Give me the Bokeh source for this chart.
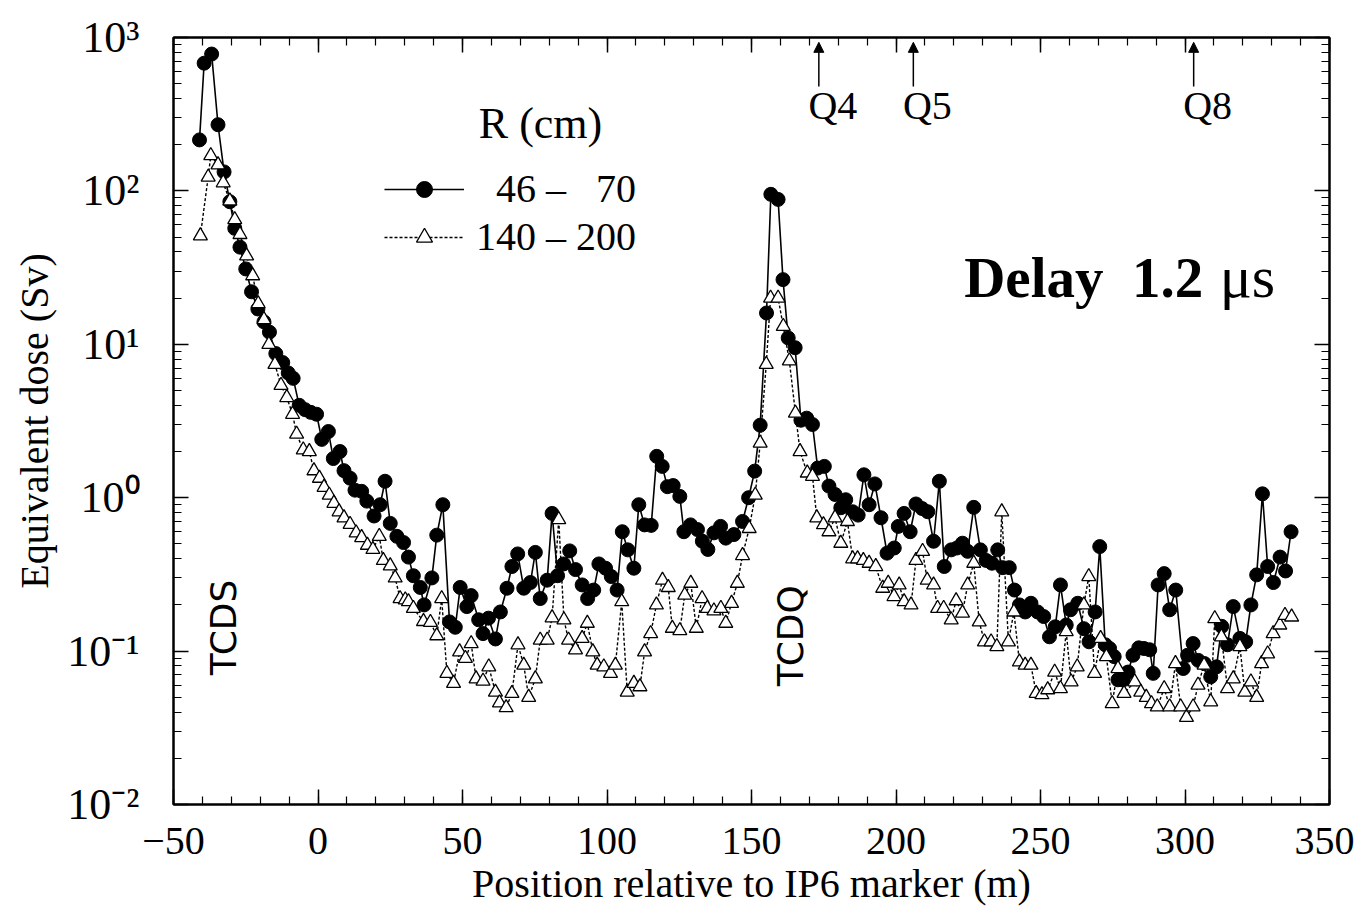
import numpy as np
from bokeh.plotting import figure
from bokeh.models import (Range1d, LinearAxis, LogAxis, FixedTicker, Legend, LegendItem,
                          Label, Arrow, NormalHead)
from bokeh.embed import file_html
from bokeh.resources import INLINE

# ---------------- data ----------------
r46_x = [-41.0, -39.4, -36.8, -34.6, -32.5, -30.5, -28.8, -27.0, -25.0, -23.0, -20.8, -18.7,
         -16.8, -14.6, -12.2, -10.3, -8.6, -6.5, -4.5, -2.5, -0.5, 1.3, 3.6, 5.3, 7.6, 9.0,
         11.1, 12.8, 15.1, 16.9, 19.4, 21.5, 23.2, 25.0, 27.3, 29.6, 31.3, 33.0, 35.4, 36.7,
         39.4, 41.1, 43.2, 45.5, 47.5, 49.2, 51.5, 53.0, 55.6, 57.1, 59.0, 61.4, 63.1, 65.4,
         67.1, 69.1, 71.2, 73.5, 75.2, 76.9, 79.3, 81.0, 82.9, 85.0, 87.1, 89.1, 91.4, 93.3,
         95.4, 97.2, 99.5, 101.5, 103.5, 105.3, 107.2, 109.3, 111.0, 113.0, 115.3, 117.2,
         119.1, 120.9, 122.9, 125.2, 126.6, 128.9, 131.3, 133.0, 134.9, 137.0, 139.3, 141.1,
         143.9, 146.9, 149.0, 151.1, 153.0, 155.2, 156.7, 159.2, 160.9, 162.7, 165.1, 167.1,
         169.1, 171.1, 172.9, 175.2, 176.8, 178.9, 180.9, 182.6, 185.0, 186.9, 188.9, 190.7,
         192.7, 194.8, 196.9, 199.4, 200.8, 202.8, 204.9, 206.9, 209.0, 211.0, 213.0, 215.0,
         216.7, 219.1, 221.1, 223.0, 224.8, 226.9, 229.2, 231.2, 233.2, 235.2, 236.9, 239.2,
         241.0, 242.7, 244.7, 246.7, 249.0, 251.1, 253.1, 255.1, 256.9, 258.9, 260.4, 262.9,
         265.0, 266.8, 268.9, 270.5, 272.4, 273.9, 275.5, 276.8, 278.6, 280.3, 282.0, 284.0,
         285.8, 287.8, 289.0, 290.7, 292.8, 294.7, 296.8, 299.4, 300.9, 302.8, 304.6, 306.7,
         308.9, 310.9, 312.7, 314.7, 316.7, 319.0, 321.0, 322.8, 324.8, 326.8, 328.6, 330.6,
         332.9, 334.8, 336.7]
r46_y = [215, 680, 780, 270, 133, 85, 57, 43, 31, 22, 17, 14,
         12, 8.7, 7.6, 6.5, 6.0, 4.0, 3.75, 3.6, 3.5, 2.4, 2.7, 1.8, 2.0, 1.5,
         1.34, 1.12, 1.1, 0.95, 0.76, 0.9, 1.28, 0.68, 0.56, 0.51, 0.41, 0.31, 0.26, 0.20,
         0.30, 0.57, 0.90, 0.155, 0.143, 0.26, 0.195, 0.23, 0.16, 0.13, 0.164, 0.12, 0.18, 0.257,
         0.356, 0.43, 0.257, 0.28, 0.44, 0.22, 0.29, 0.79, 0.31, 0.37, 0.45, 0.34, 0.27, 0.22,
         0.25, 0.37, 0.347, 0.306, 0.25, 0.60, 0.457, 0.347, 0.90, 0.665, 0.66, 1.86,
         1.6, 1.18, 1.2, 1.02, 0.60, 0.665, 0.62, 0.52, 0.46, 0.59, 0.65, 0.545,
         0.575, 0.70, 1.0, 1.49, 2.97, 16, 95, 88, 26.4, 11, 9.5, 3.2,
         3.3, 3.0, 1.56, 1.6, 1.19, 1.05, 0.86, 0.97, 0.81, 0.77, 1.41, 0.9,
         1.23, 0.74, 0.435, 0.47, 0.65, 0.79, 0.6, 0.91, 0.85, 0.81, 0.52, 1.28,
         0.356, 0.457, 0.47, 0.505, 0.447, 0.865, 0.457, 0.39, 0.374, 0.457, 0.35, 0.35,
         0.25, 0.2, 0.18, 0.205, 0.18, 0.168, 0.124, 0.144, 0.27, 0.148, 0.186, 0.205,
         0.14, 0.115, 0.18, 0.48, 0.11, 0.104, 0.092, 0.065, 0.065, 0.073, 0.094, 0.105,
         0.104, 0.102, 0.0716, 0.27, 0.32, 0.186, 0.25, 0.077, 0.094, 0.112, 0.087, 0.083,
         0.068, 0.079, 0.145, 0.11, 0.195, 0.121, 0.115, 0.2, 0.314, 1.06, 0.356, 0.28,
         0.41, 0.333, 0.6]

r140_x = [-40.7, -38.0, -37.1, -34.6, -32.8, -30.5, -28.8, -27.0, -24.7, -22.6, -20.7, -18.7,
          -17.0, -14.9, -12.8, -10.8, -8.8, -7.4, -5.1, -3.0, -1.4, 0.5, 2.1, 3.9, 5.5, 7.3,
          9.0, 11.1, 13.2, 15.1, 17.1, 19.0, 21.2, 22.6, 25.0, 26.7, 28.4, 30.2, 31.3, 33.0,
          36.5, 38.9, 41.1, 42.8, 44.6, 46.9, 49.0, 51.0, 53.0, 54.7, 57.1, 59.1, 61.4, 62.8,
          65.1, 67.1, 69.2, 71.2, 72.9, 75.2, 76.9, 79.3, 81.0, 83.3, 85.1, 86.7, 89.1, 91.4,
          93.2, 95.1, 96.6, 98.9, 101.2, 102.9, 105.1, 107.0, 109.3, 111.4, 113.0, 115.1,
          117.1, 119.2, 121.2, 122.6, 125.2, 126.9, 129.0, 130.9, 132.9, 134.7, 137.0, 139.4,
          141.1, 143.1, 145.1, 146.9, 149.2, 151.3, 153.0, 155.1, 156.6, 159.2, 161.0, 163.1,
          165.2, 166.8, 169.3, 171.1, 172.6, 174.9, 176.8, 178.9, 180.9, 183.2, 185.0, 186.7,
          188.7, 190.7, 193.0, 195.4, 197.3, 199.3, 201.1, 202.8, 205.2, 206.9, 209.2, 210.8,
          213.0, 214.4, 216.5, 219.1, 220.8, 223.0, 224.8, 226.9, 228.8, 230.6, 232.9, 234.9,
          236.6, 238.9, 240.8, 242.7, 244.7, 246.7, 248.5, 250.5, 252.5, 254.9, 256.9, 258.9,
          260.6, 262.7, 265.0, 266.7, 268.7, 270.8, 272.8, 274.8, 276.8, 278.9, 282.6, 284.7,
          286.6, 288.4, 290.4, 292.8, 294.7, 296.7, 298.5, 300.5, 302.8, 304.5, 306.6, 308.9,
          310.3, 312.6, 314.7, 316.7, 319.0, 320.7, 322.8, 324.8, 326.5, 328.6, 330.5, 332.8,
          334.6, 336.9]
r140_y = [51, 123, 170, 148, 113, 86, 65, 52, 37.7, 28, 18.4, 14.5,
          10, 7.4, 5.4, 4.5, 3.5, 2.6, 2.05, 2.0, 1.5, 1.34, 1.17, 1.04, 0.92, 0.81,
          0.74, 0.67, 0.59, 0.55, 0.49, 0.46, 0.56, 0.39, 0.36, 0.30, 0.22, 0.216, 0.21, 0.19,
          0.156, 0.154, 0.126, 0.22, 0.0716, 0.0617, 0.099, 0.0897, 0.112, 0.066, 0.0638, 0.079, 0.054, 0.046,
          0.0428, 0.053, 0.11, 0.081, 0.05, 0.066, 0.118, 0.118, 0.165, 0.72, 0.16, 0.118, 0.102, 0.121,
          0.152, 0.099, 0.081, 0.079, 0.0716, 0.081, 0.21, 0.054, 0.0617, 0.0586, 0.099, 0.13,
          0.2, 0.29, 0.26, 0.141, 0.136, 0.232, 0.277, 0.141, 0.22, 0.19, 0.183, 0.19,
          0.152, 0.205, 0.277, 0.42, 0.63, 1.04, 2.27, 7.4, 20, 20, 13.1, 7.8,
          3.56, 2.0, 1.45, 1.38, 0.74, 0.667, 0.6, 0.74, 0.505, 0.70, 0.40, 0.40,
          0.39, 0.374, 0.356, 0.257, 0.277, 0.227, 0.27, 0.21, 0.20, 0.39, 0.447, 0.29,
          0.27, 0.19, 0.19, 0.16, 0.213, 0.177, 0.27, 0.374, 0.155, 0.115, 0.115, 0.107,
          0.81, 0.115, 0.18, 0.085, 0.081, 0.081, 0.053, 0.052, 0.056, 0.073, 0.057, 0.134,
          0.063, 0.079, 0.20, 0.306, 0.0716, 0.121, 0.092, 0.0455, 0.077, 0.053, 0.063, 0.054,
          0.050, 0.0455, 0.0433, 0.057, 0.0433, 0.083, 0.0433, 0.037, 0.0433, 0.06, 0.081, 0.0467,
          0.163, 0.124, 0.057, 0.066, 0.107, 0.054, 0.063, 0.050, 0.083, 0.096, 0.13, 0.148,
          0.171, 0.167]

legend_labels = ["\u200746 \u2013 \u200770", "140 \u2013 200"]
legend_title = "R (cm)"

x_ticks = [-50, 0, 50, 100, 150, 200, 250, 300, 350]
x_tick_labels = ["\u221250", "0", "50", "100", "150", "200", "250", "300", "350"]
y_ticks = [0.01, 0.1, 1.0, 10.0, 100.0, 1000.0]
y_tick_labels = ["10\u207b\u00b2", "10\u207b\u00b9", "10\u2070", "10\u00b9", "10\u00b2", "10\u00b3"]

magnet_names = ["Q4", "Q5", "Q8"]
magnet_pos = [173.3, 206.0, 303.0]

SERIF = "Liberation Serif"

# ---------------- figure ----------------
p = figure(width=1354, height=908, x_range=Range1d(-50, 350), y_range=Range1d(0.01, 1000),
           y_axis_type="log", output_backend="svg", toolbar_location=None,
           min_border_left=173, min_border_right=25, min_border_top=37, min_border_bottom=103)
p.grid.visible = False
p.outline_line_color = "black"
p.outline_line_width = 2
p.background_fill_color = "white"
p.border_fill_color = "white"

minor_y = [k * 10.0 ** e for e in range(-2, 3) for k in range(2, 10)]
xticker = FixedTicker(ticks=x_ticks, minor_ticks=list(range(-50, 351, 10)))
yticker = FixedTicker(ticks=y_ticks, minor_ticks=minor_y)


def style_axis(ax):
    ax.axis_line_color = "black"
    ax.axis_line_width = 2
    ax.major_tick_in = 15
    ax.major_tick_out = 0
    ax.minor_tick_in = 8
    ax.minor_tick_out = 0
    ax.major_tick_line_width = 1.5
    ax.minor_tick_line_width = 1.2
    ax.major_tick_line_color = "black"
    ax.minor_tick_line_color = "black"
    ax.major_label_text_font = SERIF
    ax.major_label_text_color = "black"
    ax.axis_label_text_font = SERIF
    ax.axis_label_text_font_style = "normal"
    ax.axis_label_text_color = "black"


xa = p.xaxis[0]
xa.ticker = xticker
style_axis(xa)
xa.major_label_overrides = dict(zip(x_ticks, x_tick_labels))
xa.major_label_text_font_size = "40px"
xa.major_label_standoff = 23
xa.axis_label = "Position relative to IP6 marker (m)"
xa.axis_label_text_font_size = "40px"
xa.axis_label_standoff = 4

ya = p.yaxis[0]
ya.ticker = yticker
style_axis(ya)
ya.major_label_overrides = dict(zip(y_ticks, y_tick_labels))
ya.major_label_text_font_size = "44px"
ya.major_label_standoff = 34
ya.axis_label = "Equivalent dose (Sv)"
ya.axis_label_text_font_size = "40px"
ya.axis_label_standoff = 7

# mirrored tick marks on the top and right edges (no labels)
top_ax = LinearAxis(ticker=xticker)
style_axis(top_ax)
top_ax.major_label_overrides = {t: "" for t in x_ticks}
top_ax.major_label_text_font_size = "10px"
top_ax.major_label_standoff = 0
p.add_layout(top_ax, "above")
right_ax = LogAxis(ticker=yticker)
style_axis(right_ax)
right_ax.major_label_overrides = {t: "" for t in y_ticks}
right_ax.major_label_text_font_size = "10px"
right_ax.major_label_standoff = 0
p.add_layout(right_ax, "right")

# ---------------- series ----------------
l1 = p.line(r46_x, r46_y, line_color="black", line_width=1.6)
s1 = p.scatter(r46_x, r46_y, marker="circle", size=14, fill_color="black", line_color="black")
l2 = p.line(r140_x, r140_y, line_color="black", line_width=1.4, line_dash="3 2")
s2 = p.scatter(r140_x, r140_y, marker="triangle", size=14, fill_color="white",
               line_color="black", line_width=1.3)

legend = Legend(items=[LegendItem(label=legend_labels[0], renderers=[l1, s1]),
                       LegendItem(label=legend_labels[1], renderers=[l2, s2])],
                location=(211, 544), orientation="vertical",
                glyph_width=80, glyph_height=40, label_height=40, spacing=1,
                padding=0, margin=0, label_standoff=12,
                label_text_font=SERIF, label_text_font_size="40px",
                label_text_color="black",
                border_line_alpha=0, background_fill_alpha=0)
p.add_layout(legend, "center")

p.add_layout(Label(x=77, y=275, text=legend_title, text_font=SERIF, text_font_size="44px",
                   text_color="black", text_align="center", text_baseline="middle"))

# ---------------- annotations ----------------
for name, xpos in zip(magnet_names, magnet_pos):
    p.add_layout(Arrow(end=NormalHead(size=10, fill_color="black", line_color="black"),
                       x_start=xpos, y_start=480, x_end=xpos, y_end=930,
                       line_color="black", line_width=1.5))
    p.add_layout(Label(x=xpos, y=360, x_offset=14, text=name, text_font=SERIF,
                       text_font_size="40px", text_color="black",
                       text_align="center", text_baseline="middle"))

p.add_layout(Label(x=223.6, y=27.3, text="Delay\u00a0\u00a01.2", text_font=SERIF,
                   text_font_size="57px", text_font_style="bold", text_color="black",
                   text_align="left", text_baseline="alphabetic"))
p.add_layout(Label(x=312.0, y=27.3, text="\u03bcs", text_font=SERIF,
                   text_font_size="60px", text_color="black",
                   text_align="left", text_baseline="alphabetic"))

p.add_layout(Label(x=-32.6, y=0.1426, text="TCDS", angle=np.pi / 2, text_font="DejaVu Sans",
                   text_font_size="36px", text_color="black",
                   text_align="center", text_baseline="middle"))
p.add_layout(Label(x=163.6, y=0.126, text="TCDQ", angle=np.pi / 2, text_font="DejaVu Sans",
                   text_font_size="36px", text_color="black",
                   text_align="center", text_baseline="middle"))

open("out.html", "w").write(file_html(p, INLINE))
